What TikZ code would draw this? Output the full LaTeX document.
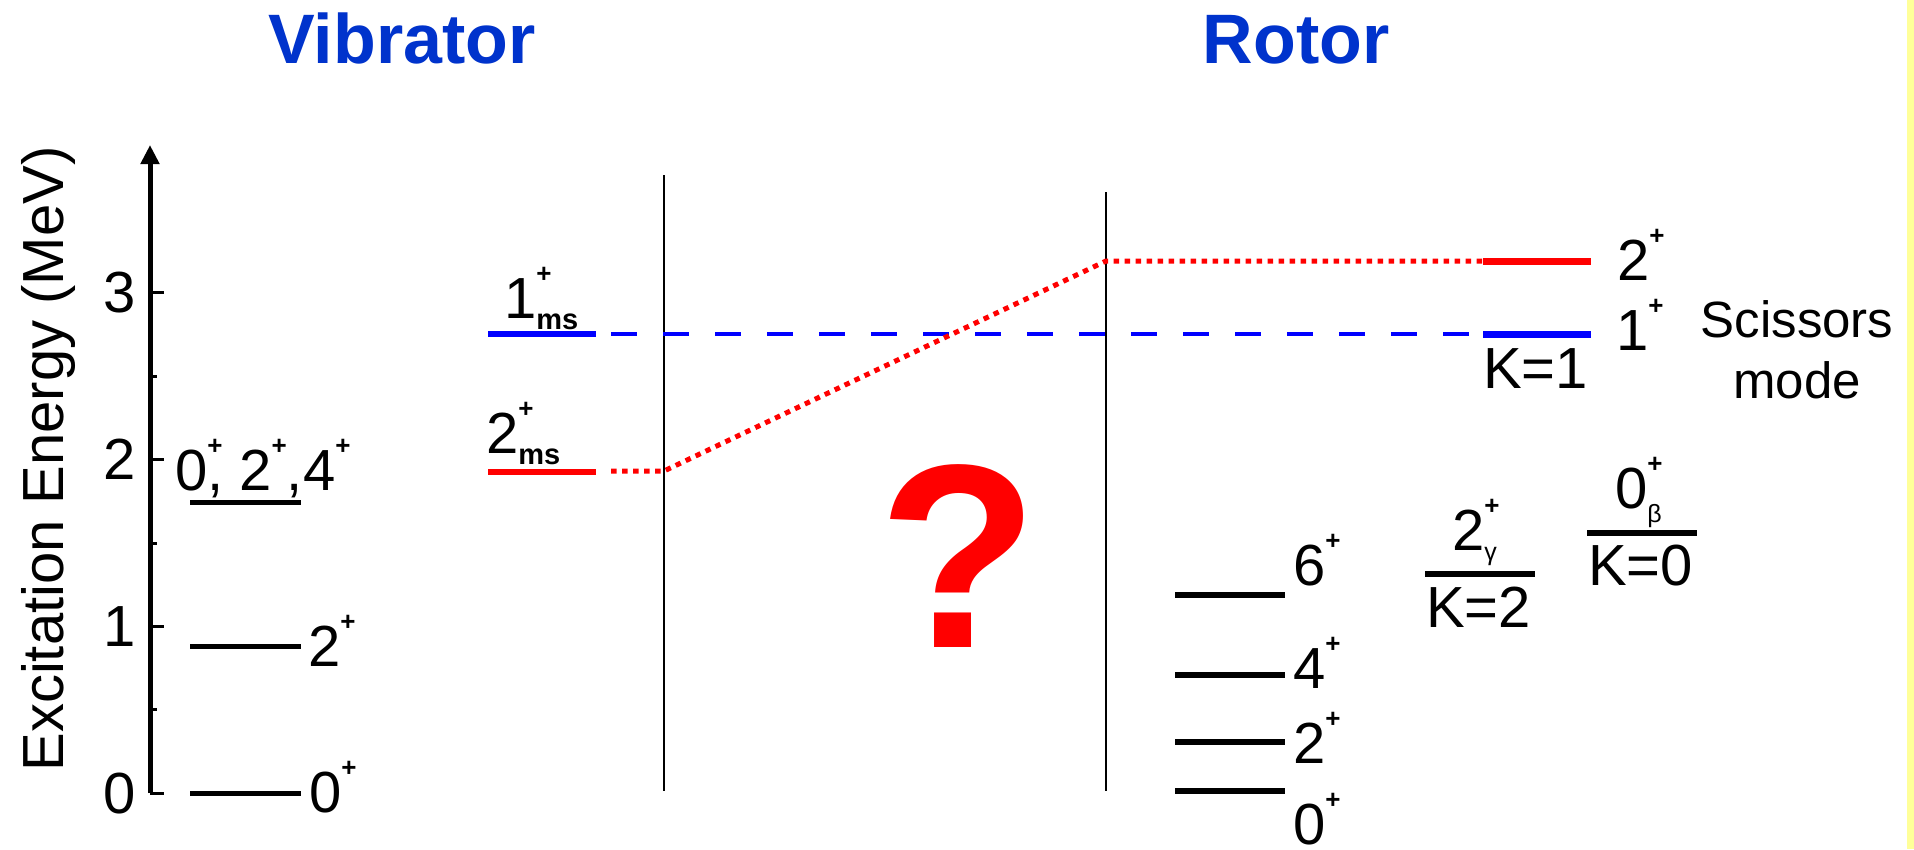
\documentclass[tikz,border=0pt]{standalone}
\usepackage{fontspec}
\setmainfont{Liberation Sans}
\usetikzlibrary{arrows.meta}
\definecolor{ttl}{RGB}{0,51,204}
\definecolor{lvred}{RGB}{255,0,0}
\definecolor{lvblue}{RGB}{0,0,255}
\definecolor{ystrip}{RGB}{255,255,153}
\newcommand\lbfont{\fontsize{58}{62}\selectfont}
\newcommand\pls{\raisebox{0.62em}{\fontsize{26}{26}\selectfont\bfseries +}}
\newcommand\msb{\raisebox{-11pt}{\fontsize{29}{29}\selectfont\bfseries ms}}
\newcommand\grk[2]{\raisebox{-#2}{\fontsize{25}{25}\selectfont #1}}
\begin{document}
\begin{tikzpicture}[x=1pt,y=-1pt,
  lbl/.style={inner sep=0pt, outer sep=0pt, font=\lbfont, anchor=base west},
  ttlst/.style={inner sep=0pt, font=\fontsize{70}{74}\selectfont\bfseries, text=ttl, anchor=base},
  lvl/.style={line width=6pt},
  tickst/.style={line width=3pt},
  vline/.style={line width=2.5pt},
]
\fill[white] (0,0) rectangle (1914,849);
\useasboundingbox (0,0) rectangle (1914,849);
\fill[ystrip] (1907,0) rectangle (1914,849);

% titles
\node[ttlst] (tv) at (402,63) {Vibrator};
\node[ttlst] (tr) at (1296,63) {Rotor};

% axis
\coordinate (ax0) at (150,793);
\coordinate (axtop) at (150,145);
\draw[line width=5pt, -{Triangle[length=19pt,width=18pt]}] (ax0) -- (axtop);
\foreach \e in {0,1,2,3} {
  \draw[tickst] (150,{793-166.67*\e}) -- ++(14,0);
  \node[lbl, anchor=base east] (tk\e) at (136,{793-166.67*\e+20}) {\e};
}
\foreach \e in {0.5,1.5,2.5} {
  \draw[tickst] (150,{793-166.67*\e}) -- ++(7,0);
}
\node[inner sep=0pt, font=\fontsize{58}{62}\selectfont, rotate=90, anchor=base] (ylab) at (63,459) {Excitation Energy (MeV)};

% vibrator levels
\coordinate (v0L) at (190,793); \coordinate (v0R) at (301,793);
\coordinate (v2L) at (190,646); \coordinate (v2R) at (301,646);
\coordinate (v3L) at (190,502); \coordinate (v3R) at (301,502);
\draw[lvl, line width=5pt] (v0L) -- (v0R);
\draw[lvl, line width=5pt] (v2L) -- (v2R);
\draw[lvl, line width=5pt] (v3L) -- (v3R);
\node[lbl] (v0) at (309,812) {0\pls};
\node[lbl] (v2) at (308,666) {2\pls};
\node[lbl] (v3) at (175,490) {0\rlap{\pls}, 2\pls,4\pls};

% mixed-symmetry levels
\coordinate (m1L) at (488,334); \coordinate (m1R) at (596,334);
\coordinate (m2L) at (488,472); \coordinate (m2R) at (596,472);
\draw[lvl, lvblue] (m1L) -- (m1R);
\draw[lvl, lvred] (m2L) -- (m2R);
\node[lbl] (m1) at (504,318) {1\rlap{\pls}\msb};
\node[lbl] (m2) at (486,453) {2\rlap{\pls}\msb};

% separators
\coordinate (vA) at (664,175); \coordinate (vAb) at (664,791);
\coordinate (vB) at (1106,192); \coordinate (vBb) at (1106,791);
\draw[vline] (vA) -- (vAb);
\draw[vline] (vB) -- (vBb);

% rotor scissors levels
\coordinate (r2L) at (1483,261); \coordinate (r2R) at (1591,261);
\coordinate (r1L) at (1483,334); \coordinate (r1R) at (1591,334);
\draw[lvl, line width=7pt, lvred] (r2L) -- (r2R);
\draw[lvl, line width=7pt, lvblue] (r1L) -- (r1R);
\node[lbl] (r2) at (1617,280) {2\pls};
\node[lbl] (r1) at (1616,350) {1\pls};
\node[lbl] (k1) at (1483,388) {K=1};
\node[inner sep=0pt, font=\fontsize{51}{55}\selectfont, anchor=base] (sc1) at (1797,337) {Scissors};
\node[inner sep=0pt, font=\fontsize{51}{55}\selectfont, anchor=base] (sc2) at (1797,398) {mode};

% connectors
\coordinate (m1D) at (611,334);
\coordinate (m2D) at (611,471);
\coordinate (bendA) at (664,471);
\coordinate (bendB) at (1106,261);
\draw[lvblue, line width=4pt, dash pattern=on 26pt off 26pt] (m1D) -- (r1L);
\draw[lvred, line width=5pt, dash pattern=on 5.5pt off 5.5pt] (m2D) -- (bendA) -- (bendB) -- (r2L);

% question mark
\node[inner sep=0pt, anchor=base, font=\fontsize{262}{262}\selectfont\bfseries, text=lvred] (q) at (959,647) {?};

% ground band
\foreach \nm/\yy/\by/\j in {g6/595/585/6, g4/675/688/4, g2/742/763/2, g0/791/844/0} {
  \coordinate (\nm L) at (1175,\yy); \coordinate (\nm R) at (1285,\yy);
  \draw[lvl] (\nm L) -- (\nm R);
  \node[lbl] (\nm) at (1293,\by) {\j\pls};
}

% gamma band
\coordinate (gaL) at (1425,574); \coordinate (gaR) at (1535,574);
\draw[lvl] (gaL) -- (gaR);
\node[lbl] (gam) at (1452,550) {2\rlap{\pls}\grk{γ}{10pt}};
\node[lbl] (k2) at (1426,627) {K=2};

% beta band
\coordinate (beL) at (1587,533); \coordinate (beR) at (1697,533);
\draw[lvl] (beL) -- (beR);
\node[lbl] (bet) at (1615,508) {0\rlap{\pls}\grk{β}{14pt}};
\node[lbl] (k0) at (1588,585) {K=0};
\end{tikzpicture}
\end{document}
